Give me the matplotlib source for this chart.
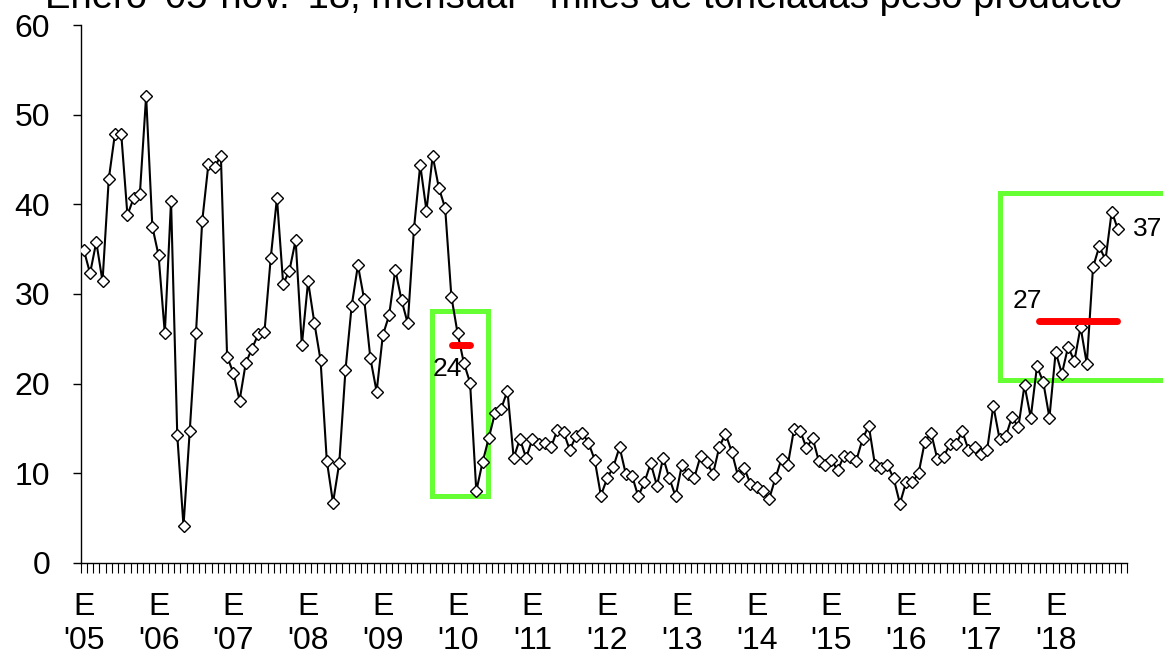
import numpy as np
import matplotlib
matplotlib.use("Agg")
import matplotlib.pyplot as plt

# monthly values, Jan 2005 - Nov 2018 (miles de toneladas peso producto)
values = [
    34.9, 32.3, 35.8, 31.4, 42.8, 47.9, 47.9, 38.8, 40.7, 41.2, 52.1, 37.5,   # 2005
    34.3, 25.6, 40.4, 14.2, 4.1, 14.7, 25.6, 38.1, 44.5, 44.2, 45.4, 23.0,    # 2006
    21.2, 18.1, 22.3, 23.9, 25.5, 25.8, 34.0, 40.7, 31.1, 32.6, 36.0, 24.3,   # 2007
    31.4, 26.8, 22.6, 11.4, 6.7, 11.1, 21.5, 28.7, 33.2, 29.4, 22.8, 19.1,    # 2008
    25.4, 27.6, 32.7, 29.3, 26.7, 37.3, 44.4, 39.3, 45.4, 41.8, 39.6, 29.7,   # 2009
    25.6, 22.3, 20.1, 8.0, 11.2, 13.9, 16.7, 17.2, 19.2, 11.7, 13.8, 11.7,    # 2010
    13.8, 13.2, 13.4, 12.9, 14.8, 14.6, 12.6, 14.1, 14.5, 13.4, 11.5, 7.5,    # 2011
    9.4, 10.7, 12.9, 9.9, 9.7, 7.4, 9.0, 11.1, 8.6, 11.7, 9.4, 7.4,           # 2012
    10.9, 9.9, 9.5, 11.9, 11.2, 9.9, 12.9, 14.4, 12.4, 9.7, 10.6, 8.8,        # 2013
    8.5, 8.0, 7.1, 9.4, 11.6, 10.9, 14.9, 14.7, 12.8, 13.9, 11.3, 10.9,       # 2014
    11.5, 10.3, 11.9, 11.8, 11.4, 13.8, 15.3, 10.9, 10.6, 10.9, 9.4, 6.6,     # 2015
    9.0, 9.0, 10.0, 13.5, 14.5, 11.6, 11.8, 13.2, 13.2, 14.7, 12.6, 12.9,     # 2016
    12.1, 12.6, 17.5, 13.8, 14.1, 16.3, 15.1, 19.8, 16.2, 21.9, 20.2, 16.2,   # 2017
    23.5, 21.1, 24.1, 22.5, 26.3, 22.2, 33.0, 35.3, 33.8, 39.2, 37.2,         # 2018
]
years = ["05", "06", "07", "08", "09", "10", "11", "12", "13", "14", "15", "16", "17", "18"]
avg_2010 = 24.3
avg_2018 = 27.0

title = "Enero '05-nov. '18, mensual - miles de toneladas peso producto"

plt.rcParams['font.family'] = ['Liberation Sans', 'DejaVu Sans']

fig = plt.figure(figsize=(11.63, 6.62), dpi=100)
ax = fig.add_axes([0.0694, 0.150, 0.8999, 0.812])

x = np.arange(len(values))
ax.plot(x, values, color="black", lw=1.5, marker="D", ms=5.8,
        mfc="white", mec="black", mew=1.0, zorder=3)

# highlight boxes
green = "#66ff33"
ax.plot([55.9, 64.9, 64.9, 55.9, 55.9], [7.4, 7.4, 28.1, 28.1, 7.4],
        color=green, lw=3.6, solid_joinstyle="miter", zorder=2)
ax.plot([176, 147.0, 147.0, 176], [41.3, 41.3, 20.4, 20.4],
        color=green, lw=3.6, solid_joinstyle="miter", clip_on=False, zorder=2)

# averages
ax.plot([59.1, 62.0], [avg_2010, avg_2010], color="red", lw=5,
        solid_capstyle="round", zorder=4)
ax.plot([153.3, 165.8], [avg_2018, avg_2018], color="red", lw=5,
        solid_capstyle="round", zorder=4)
ax.text(58.4, 21.6, f"{avg_2010:.0f}", fontsize=19, ha="center", va="center")
ax.text(151.5, 29.2, f"{avg_2018:.0f}", fontsize=19, ha="center", va="center")
ax.text(170.7, 37.2, f"{values[-1]:.0f}", fontsize=19, ha="center", va="center",
        clip_on=False)

ax.set_xlim(-0.5, 167.5)
ax.set_ylim(0, 60)
ax.set_yticks(range(0, 61, 10))
ax.tick_params(axis="y", labelsize=23, length=6, width=1, direction="out", pad=16)

ax.set_xticks(np.arange(0, 168, 12))
ax.set_xticklabels(["E\n'" + y for y in years])
ax.set_xticks(np.arange(-0.5, 168, 1), minor=True)
ax.tick_params(axis="x", which="major", length=0, labelsize=23, pad=21)
ax.tick_params(axis="x", which="minor", length=7, width=0.8, direction="out")

for s in ["top", "right"]:
    ax.spines[s].set_visible(False)
ax.spines["left"].set_linewidth(1)
ax.spines["bottom"].set_linewidth(1)

# title sits partly above the top edge, as in the source picture
fig.text(0.502, 0.9885, title, fontsize=27.5, ha="center", va="baseline")

fig.savefig("out.png", dpi=100)
